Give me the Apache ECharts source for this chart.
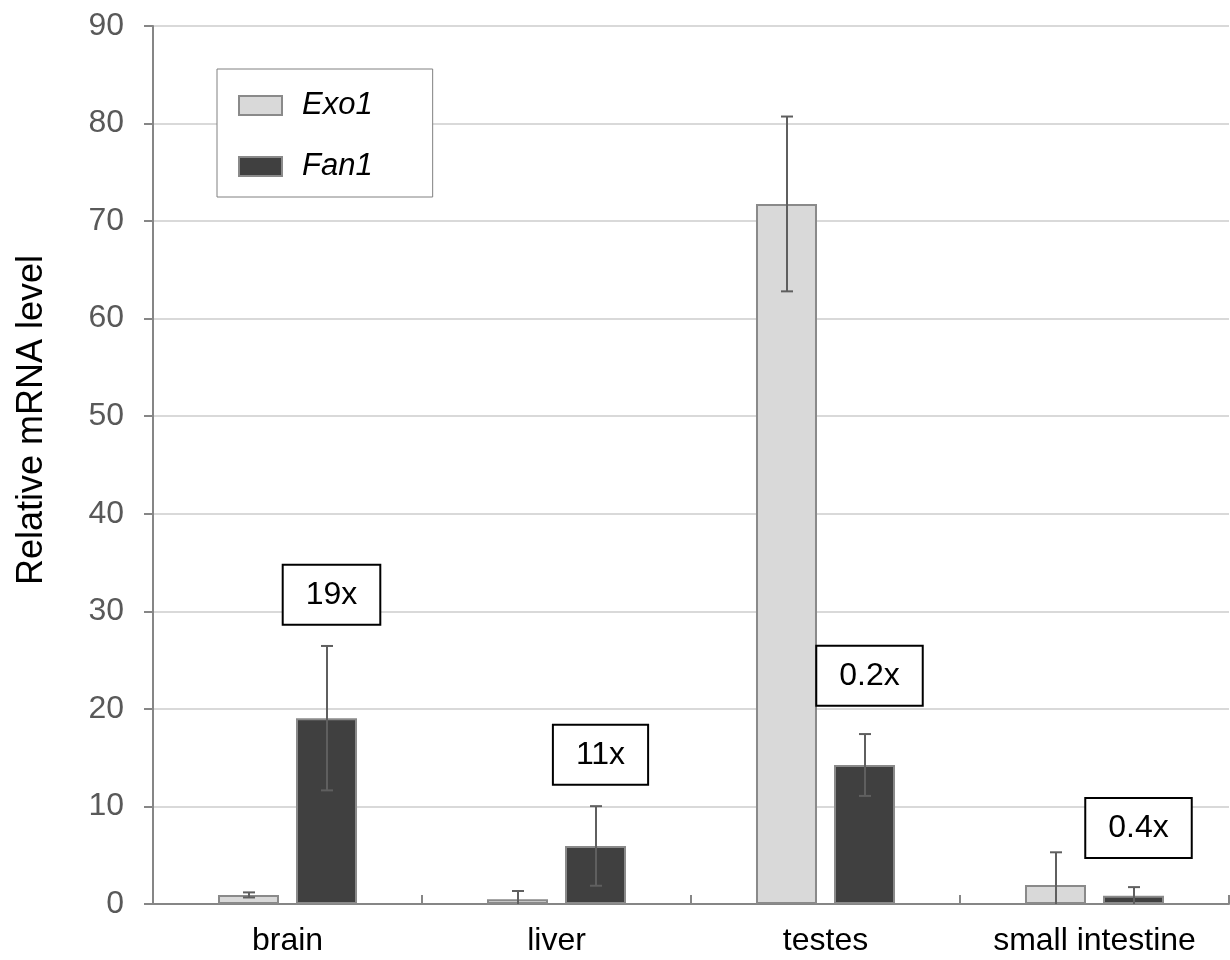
<!DOCTYPE html>
<html>
<head>
<meta charset="utf-8">
<title>Relative mRNA level</title>
<script src="https://cdn.jsdelivr.net/npm/echarts@6/dist/echarts.min.js"></script>
<style>
  html, body { margin: 0; padding: 0; background: #fff; }
  #chart { width: 1230px; height: 960px; }
</style>
</head>
<body>
<div id="chart"></div>
<script>
// Tissues on the category axis
const tissues = ['brain', 'liver', 'testes', 'small intestine'];

// Mean relative mRNA level and its error (± half-range) per tissue
const exo1Mean = [0.93, 0.48, 71.76, 1.95];
const exo1Err  = [0.26, 0.85, 8.96, 3.35];
const fan1Mean = [19.05, 5.95, 14.25, 0.85];
const fan1Err  = [7.4, 4.08, 3.17, 0.88];

// Fold change Fan1 / Exo1 and the level at which each note is placed
const foldText  = ['19x', '11x', '0.2x', '0.4x'];
const foldLevel = [31.7, 15.3, 23.4, 7.8];

// Y axis ticks
const yTicks = [0, 10, 20, 30, 40, 50, 60, 70, 80, 90];

const FONT = "'Liberation Sans', Arial, Helvetica, sans-serif";
const BAR_W = 61;
const BAR_GAP = 17;
const SHIFT = (BAR_W + BAR_GAP) / 2;

function errorBars(name, means, errs, dir) {
  return {
    type: 'custom',
    name: name,
    z: 5,
    encode: { x: 0, y: [1, 2] },
    data: means.map((m, i) => [i, m - errs[i], m + errs[i]]),
    renderItem: function (params, api) {
      const i = api.value(0);
      const rawLo = api.value(1);
      const lo = Math.max(0, rawLo);
      const hi = api.value(2);
      const pTop = api.coord([i, hi]);
      const pBot = api.coord([i, lo]);
      const x = Math.round(pTop[0] + dir * SHIFT);
      const style = { stroke: '#5f5f5f', lineWidth: 2 };
      const cap = 6;
      const kids = [
        { type: 'line', shape: { x1: x, y1: pTop[1], x2: x, y2: pBot[1] }, style: style },
        { type: 'line', shape: { x1: x - cap, y1: pTop[1], x2: x + cap, y2: pTop[1] }, style: style }
      ];
      if (rawLo >= 0) {
        kids.push({ type: 'line', shape: { x1: x - cap, y1: pBot[1], x2: x + cap, y2: pBot[1] }, style: style });
      }
      return { type: 'group', children: kids };
    }
  };
}

const chart = echarts.init(document.getElementById('chart'), null, { renderer: 'canvas' });

chart.setOption({
  backgroundColor: '#ffffff',
  animation: false,
  textStyle: { fontFamily: FONT },
  grid: { left: 153, right: 1, top: 26, bottom: 56, containLabel: false },
  legend: {
    data: ['Exo1', 'Fan1'],
    orient: 'vertical',
    left: 217,
    top: 69,
    padding: [21, 60, 15, 21],
    itemGap: 30,
    itemWidth: 43,
    itemHeight: 19,
    borderColor: '#808080',
    borderWidth: 1,
    backgroundColor: '#ffffff',
    selectedMode: false,
    icon: 'rect',
    textStyle: {
      fontFamily: FONT,
      fontSize: 31,
      fontStyle: 'italic',
      color: '#000000',
      padding: [0, 0, 0, 15]
    }
  },
  xAxis: {
    type: 'category',
    data: tissues,
    boundaryGap: true,
    axisLine: { show: true, lineStyle: { color: '#868686', width: 2 } },
    axisTick: { show: true, inside: true, length: 9, lineStyle: { color: '#868686', width: 2 } },
    axisLabel: { color: '#000000', fontSize: 32, fontFamily: FONT, margin: 21 },
    splitLine: { show: false }
  },
  yAxis: {
    type: 'value',
    min: yTicks[0],
    max: yTicks[yTicks.length - 1],
    interval: yTicks[1] - yTicks[0],
    name: 'Relative mRNA level',
    nameLocation: 'middle',
    nameGap: 103,
    nameTextStyle: { fontSize: 36, color: '#000000', fontFamily: FONT, padding: [0, 0, 0, 90] },
    axisLine: { show: true, lineStyle: { color: '#868686', width: 2 } },
    axisTick: { show: true, inside: false, length: 9, lineStyle: { color: '#868686', width: 2 } },
    axisLabel: { color: '#595959', fontSize: 32, fontFamily: FONT, margin: 29 },
    splitLine: { show: true, lineStyle: { color: '#d9d9d9', width: 2 } }
  },
  series: [
    {
      name: 'Exo1',
      type: 'bar',
      data: exo1Mean,
      barWidth: BAR_W,
      barGap: (BAR_GAP / BAR_W * 100).toFixed(1) + '%',
      itemStyle: { color: '#d9d9d9', borderColor: '#8a8a8a', borderWidth: 2 },
      z: 3
    },
    {
      name: 'Fan1',
      type: 'bar',
      data: fan1Mean,
      barWidth: BAR_W,
      itemStyle: { color: '#404040', borderColor: '#8a8a8a', borderWidth: 2 },
      z: 3
    },
    errorBars('Exo1 error', exo1Mean, exo1Err, -1),
    errorBars('Fan1 error', fan1Mean, fan1Err, 1),
    {
      name: 'fold change',
      type: 'scatter',
      z: 6,
      symbolSize: 1,
      itemStyle: { color: 'rgba(0,0,0,0)', opacity: 1 },
      emphasis: { disabled: true },
      data: foldLevel.map((v, i) => [i, v]),
      label: {
        show: true,
        position: 'inside',
        offset: [44, 0],
        formatter: (p) => foldText[p.dataIndex],
        fontFamily: FONT,
        fontSize: 32,
        color: '#000000',
        opacity: 1,
        backgroundColor: '#ffffff',
        borderColor: '#000000',
        borderWidth: 2,
        padding: [13, 22, 13, 22]
      }
    }
  ]
});
</script>
</body>
</html>
